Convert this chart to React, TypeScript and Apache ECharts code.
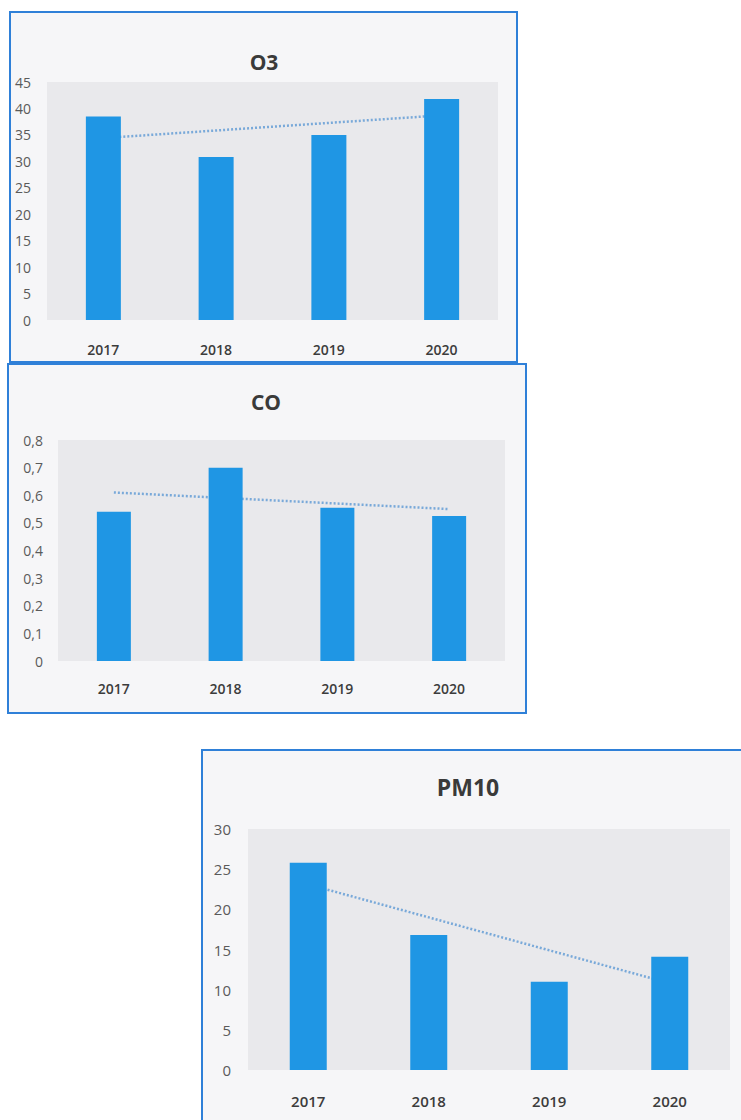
import React, { useEffect, useRef } from "react";
import * as echarts from "echarts";

const categories = ["2017", "2018", "2019", "2020"];

const o3Values = [38.5, 30.8, 35.0, 41.8];
const o3TrendEnds = [34.4, 38.7];
const o3Axis = { max: 45, interval: 5 };

const coValues = [0.54, 0.7, 0.555, 0.525];
const coTrendEnds = [0.61, 0.55];
const coAxis = { max: 0.8, interval: 0.1 };

const pm10Values = [25.8, 16.8, 11.0, 14.1];
const pm10TrendEnds = [23.1, 10.8];
const pm10Axis = { max: 30, interval: 5 };

const FONT = "'Open Sans', 'Noto Sans', sans-serif";
const BAR = "#1f96e4";
const TREND = "#79a9d9";
const PLOT_BG = "#e9e9ec";
const PANEL_BG = "#f6f6f8";
const BORDER = "#2f80d8";

const trendData = (ends: number[]) => [ends[0], null, null, ends[1]];

export default function App() {
  const ref = useRef<HTMLDivElement>(null);
  useEffect(() => {
    if (!ref.current) return;
    const chart = echarts.init(ref.current, undefined, { renderer: "svg" });

    const panels = [
      { name: "O3", values: o3Values, trend: o3TrendEnds, axis: o3Axis, grid: { left: 47, top: 82, width: 451, height: 238 }, title: { x: 264, y: 62, size: 21 }, yMargin: 16, xMargin: 22, barWidth: 35, xFont: 14, yFont: 14, comma: false },
      { name: "CO", values: coValues, trend: coTrendEnds, axis: coAxis, grid: { left: 58, top: 440, width: 447, height: 221 }, title: { x: 266, y: 402, size: 21 }, yMargin: 15, xMargin: 20, barWidth: 34, xFont: 14, yFont: 14, comma: true },
      { name: "PM10", values: pm10Values, trend: pm10TrendEnds, axis: pm10Axis, grid: { left: 248, top: 829, width: 482, height: 241 }, title: { x: 468, y: 787, size: 23 }, yMargin: 17, xMargin: 23, barWidth: 37, xFont: 15, yFont: 15, comma: false },
    ];

    const option: any = {
      animation: false,
      backgroundColor: "#ffffff",
      graphic: [
        { type: "rect", shape: { x: 10, y: 12, width: 507, height: 350 }, style: { fill: PANEL_BG, stroke: BORDER, lineWidth: 2 }, z: -10 },
        { type: "rect", shape: { x: 8, y: 364, width: 518, height: 349 }, style: { fill: PANEL_BG, stroke: BORDER, lineWidth: 2 }, z: -10 },
        { type: "rect", shape: { x: 202, y: 750, width: 560, height: 400 }, style: { fill: PANEL_BG, stroke: BORDER, lineWidth: 2 }, z: -10 },
        ...panels.map((p) => ({
          type: "text",
          x: p.title.x,
          y: p.title.y,
          style: { text: p.name, fill: "#3a3a3a", font: `bold ${p.title.size}px ${FONT}`, textAlign: "center", textVerticalAlign: "middle" },
          z: 10,
        })),
      ],
      grid: panels.map((p) => ({ ...p.grid, show: true, backgroundColor: PLOT_BG, borderWidth: 0, containLabel: false })),
      xAxis: panels.map((p, i) => ({
        type: "category",
        gridIndex: i,
        data: categories,
        axisLine: { show: false },
        axisTick: { show: false },
        splitLine: { show: false },
        axisLabel: { margin: p.xMargin, color: "#3c3c3c", fontFamily: FONT, fontSize: p.xFont, fontWeight: 600 },
      })),
      yAxis: panels.map((p, i) => ({
        type: "value",
        gridIndex: i,
        min: 0,
        max: p.axis.max,
        interval: p.axis.interval,
        axisLine: { show: false },
        axisTick: { show: false },
        splitLine: { show: false },
        axisLabel: {
          margin: p.yMargin,
          color: "#5a5a5a",
          fontFamily: FONT,
          fontSize: p.yFont,
          formatter: (v: number) => {
            const s = p.comma ? String(Math.round(v * 10) / 10) : String(v);
            return p.comma ? s.replace(".", ",") : s;
          },
        },
      })),
      series: panels.flatMap((p, i) => [
        {
          type: "line",
          name: p.name + " trend",
          xAxisIndex: i,
          yAxisIndex: i,
          data: trendData(p.trend),
          connectNulls: true,
          symbol: "none",
          lineStyle: { color: TREND, width: 2.5, type: [2, 2] },
          z: 1,
        },
        {
          type: "bar",
          name: p.name,
          xAxisIndex: i,
          yAxisIndex: i,
          data: p.values,
          barWidth: p.barWidth,
          itemStyle: { color: BAR },
          z: 2,
        },
      ]),
    };

    chart.setOption(option);
    return () => chart.dispose();
  }, []);

  return <div ref={ref} style={{ position: "absolute", left: 0, top: 0, width: 741, height: 1120 }} />;
}
